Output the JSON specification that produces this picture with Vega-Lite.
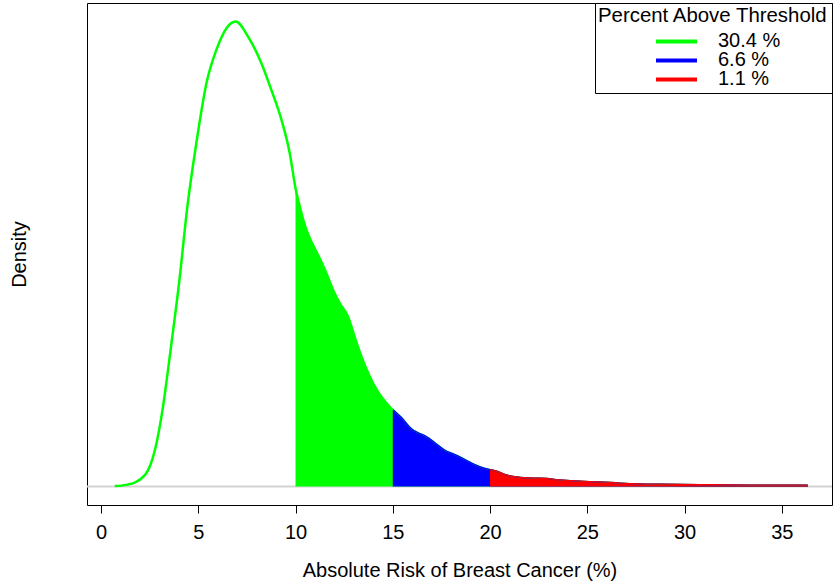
{
  "$schema": "https://vega.github.io/schema/vega-lite/v6.json",
  "width": 745,
  "height": 502,
  "autosize": {"type": "none"},
  "padding": {"left": 87, "top": 3, "right": 1, "bottom": 79},
  "config": {
    "font": "Liberation Sans",
    "view": {"stroke": "black", "strokeWidth": 1},
    "axis": {"grid": false}
  },
  "data": {
    "values": [
      {"risk": 0.71, "density": 0.0001},
      {"risk": 1.3, "density": 0.0004},
      {"risk": 1.82, "density": 0.0012},
      {"risk": 2.42, "density": 0.0042},
      {"risk": 2.85, "density": 0.0111},
      {"risk": 3.16, "density": 0.0197},
      {"risk": 3.62, "density": 0.0369},
      {"risk": 4.05, "density": 0.0541},
      {"risk": 4.42, "density": 0.0714},
      {"risk": 4.90, "density": 0.0886},
      {"risk": 5.42, "density": 0.1041},
      {"risk": 5.93, "density": 0.1127},
      {"risk": 6.45, "density": 0.1183},
      {"risk": 6.93, "density": 0.1200},
      {"risk": 7.56, "density": 0.1161},
      {"risk": 8.25, "density": 0.1092},
      {"risk": 8.76, "density": 0.1023},
      {"risk": 9.28, "density": 0.0946},
      {"risk": 9.70, "density": 0.0861},
      {"risk": 10.00, "density": 0.0770},
      {"risk": 10.22, "density": 0.0722},
      {"risk": 10.56, "density": 0.0662},
      {"risk": 10.90, "density": 0.0623},
      {"risk": 11.24, "density": 0.0589},
      {"risk": 11.59, "density": 0.0550},
      {"risk": 11.93, "density": 0.0507},
      {"risk": 12.27, "density": 0.0473},
      {"risk": 12.70, "density": 0.0438},
      {"risk": 13.04, "density": 0.0386},
      {"risk": 13.39, "density": 0.0335},
      {"risk": 13.82, "density": 0.0283},
      {"risk": 14.24, "density": 0.0244},
      {"risk": 14.67, "density": 0.0215},
      {"risk": 15.00, "density": 0.0197},
      {"risk": 15.44, "density": 0.0176},
      {"risk": 15.96, "density": 0.0147},
      {"risk": 16.30, "density": 0.0137},
      {"risk": 16.73, "density": 0.0127},
      {"risk": 17.16, "density": 0.0111},
      {"risk": 17.67, "density": 0.0092},
      {"risk": 18.19, "density": 0.0081},
      {"risk": 18.70, "density": 0.0068},
      {"risk": 19.21, "density": 0.0055},
      {"risk": 19.73, "density": 0.0045},
      {"risk": 20.00, "density": 0.0042},
      {"risk": 20.33, "density": 0.0038},
      {"risk": 20.84, "density": 0.0028},
      {"risk": 21.53, "density": 0.0022},
      {"risk": 22.21, "density": 0.0020},
      {"risk": 22.90, "density": 0.0019},
      {"risk": 23.58, "density": 0.0015},
      {"risk": 24.61, "density": 0.0012},
      {"risk": 25.64, "density": 0.0010},
      {"risk": 26.67, "density": 0.0007},
      {"risk": 27.70, "density": 0.0005},
      {"risk": 28.72, "density": 0.0004},
      {"risk": 30.78, "density": 0.0003},
      {"risk": 33.35, "density": 0.0002},
      {"risk": 36.33, "density": 0.0002}
    ]
  },
  "encoding": {
    "x": {
      "field": "risk",
      "type": "quantitative",
      "scale": {"domain": [-0.72, 37.58], "nice": false, "zero": false},
      "axis": {
        "values": [0, 5, 10, 15, 20, 25, 30, 35],
        "title": "Absolute Risk of Breast Cancer (%)",
        "domain": false,
        "tickSize": 8,
        "tickColor": "black",
        "labelColor": "black",
        "labelFontSize": 20,
        "labelPadding": 9,
        "labelFlush": false,
        "labelOverlap": false,
        "titleFontSize": 20,
        "titleFontWeight": "normal",
        "titleColor": "black",
        "titlePadding": 18
      }
    },
    "y": {
      "field": "density",
      "type": "quantitative",
      "scale": {"domain": [-0.0048, 0.1248], "nice": false, "zero": false},
      "axis": {
        "title": "Density",
        "labels": false,
        "ticks": false,
        "domain": false,
        "titleFontSize": 20,
        "titleFontWeight": "normal",
        "titleColor": "black",
        "titlePadding": 58
      }
    }
  },
  "layer": [
    {
      "data": {"values": [{"density": 0}]},
      "mark": {"type": "rule", "color": "#d3d3d3", "strokeWidth": 2},
      "encoding": {"x": null}
    },
    {
      "mark": {"type": "line", "interpolate": "monotone", "strokeWidth": 2.5},
      "encoding": {
        "stroke": {
          "datum": "30.4 %",
          "type": "nominal",
          "scale": {"domain": ["30.4 %", "6.6 %", "1.1 %"], "range": ["#00ff00", "#0000ff", "#ff0000"]},
          "legend": {
            "title": "Percent Above Threshold",
            "orient": "top-right",
            "offset": 0,
            "padding": 3,
            "strokeColor": "black",
            "fillColor": "white",
            "titleFontSize": 20.4,
            "titleFontWeight": "normal",
            "titleColor": "black",
            "titlePadding": 6,
            "titleLimit": 400,
            "labelFontSize": 20,
            "labelColor": "black",
            "symbolType": "stroke",
            "symbolSize": 1681,
            "symbolStrokeWidth": 4,
            "clipHeight": 18,
            "rowPadding": -2,
            "symbolOffset": 56,
            "labelOffset": 19
          }
        }
      }
    },
    {
      "transform": [{"filter": "datum.risk >= 15"}],
      "mark": {"type": "line", "interpolate": "monotone", "strokeWidth": 2.5},
      "encoding": {"stroke": {"datum": "6.6 %", "type": "nominal"}}
    },
    {
      "transform": [{"filter": "datum.risk >= 20"}],
      "mark": {"type": "line", "interpolate": "monotone", "strokeWidth": 2.5},
      "encoding": {"stroke": {"datum": "1.1 %", "type": "nominal"}}
    },
    {
      "transform": [{"filter": "datum.risk >= 10"}],
      "mark": {"type": "area", "interpolate": "monotone", "color": "#00ff00"},
      "encoding": {"y2": {"datum": 0}}
    },
    {
      "transform": [{"filter": "datum.risk >= 15"}],
      "mark": {"type": "area", "interpolate": "monotone", "color": "#0000ff"},
      "encoding": {"y2": {"datum": 0}}
    },
    {
      "transform": [{"filter": "datum.risk >= 20"}],
      "mark": {"type": "area", "interpolate": "monotone", "color": "#ff0000"},
      "encoding": {"y2": {"datum": 0}}
    }
  ]
}
